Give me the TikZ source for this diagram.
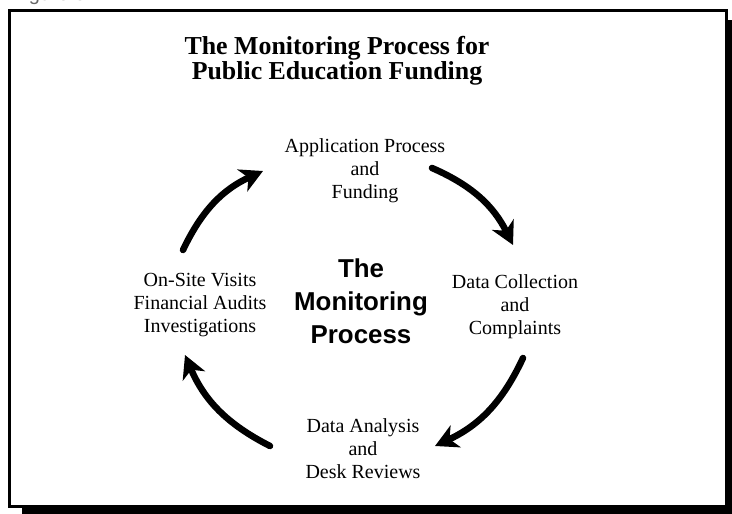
\documentclass[tikz,border=0pt]{standalone}
\usepackage{fontspec}
\setmainfont{Liberation Serif}
\setsansfont{Liberation Sans}
\usetikzlibrary{arrows.meta}
\begin{document}
\begin{tikzpicture}[x=0.75pt,y=0.75pt,
  lbl/.style={font=\fontsize{15}{17.5}\selectfont, align=center, inner sep=0pt, anchor=base},
  ttl/.style={font=\fontsize{19.4}{18.75}\selectfont\bfseries, align=center, inner sep=0pt, anchor=base},
  ctr/.style={font=\fontsize{19.4}{24.75}\selectfont\sffamily\bfseries, align=center, inner sep=0pt, anchor=base},
  cyc/.style={line width=4.9pt, line cap=round, -{Stealth[length=17pt,width=18pt,inset=5pt]}, bend left=20}]
\useasboundingbox (0,0) rectangle (732,514);
\begin{scope}
\clip (0,0) rectangle (732,514);
\node[anchor=base west, inner sep=0pt, text=black!60, font=\fontsize{15}{18}\selectfont\sffamily] (fig) at (12,513) {Figure 3};
\fill[black] (22,494) rectangle (750,-20);
\draw[line width=2.6pt, fill=white] (9.75,503.25) rectangle (726.25,7.75);
\end{scope}
\node[ttl] (title) at (337,434) {The Monitoring Process for\\Public Education Funding};
\node[lbl] (app) at (365,315) {Application Process\\and\\Funding};
\node[lbl] (coll) at (515,179) {Data Collection\\and\\Complaints};
\node[lbl] (anal) at (363,35) {Data Analysis\\and\\Desk Reviews};
\node[lbl] (site) at (200,181) {On-Site Visits\\Financial Audits\\Investigations};
\node[ctr] (mon) at (361,170) {The\\Monitoring\\Process};
\coordinate (a1s) at (183,264); \coordinate (a1e) at (263,343);
\coordinate (a2s) at (432,346); \coordinate (a2e) at (513,269);
\coordinate (a3s) at (523,156); \coordinate (a3e) at (435,68);
\coordinate (a4s) at (270,68);  \coordinate (a4e) at (185,159);
\draw[cyc] (a1s) to (a1e);
\draw[cyc] (a2s) to (a2e);
\draw[cyc] (a3s) to (a3e);
\draw[cyc] (a4s) to (a4e);
\end{tikzpicture}
\end{document}
